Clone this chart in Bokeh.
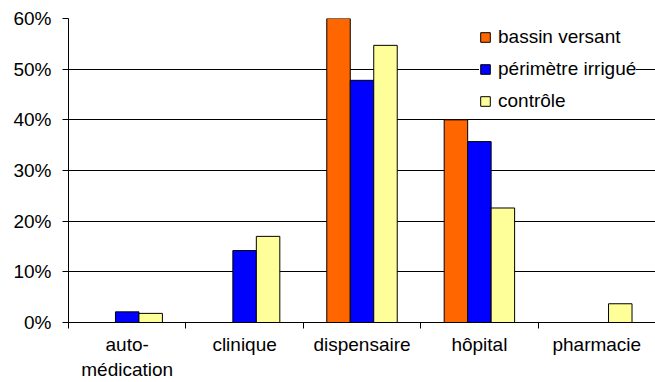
from bokeh.plotting import figure
from bokeh.models import (ColumnDataSource, Range1d, FixedTicker,
                          NumeralTickFormatter, Legend, LegendItem)
from bokeh.transform import dodge
from bokeh.embed import file_html
from bokeh.resources import INLINE

# ---- data ----
categories = ["auto-médication", "clinique", "dispensaire", "hôpital", "pharmacie"]
category_labels = ["auto-\nmédication", "clinique", "dispensaire", "hôpital", "pharmacie"]
series_names = ["bassin versant", "périmètre irrigué", "contrôle"]
bassin_versant = [0.0, 0.0, 0.600, 0.400, 0.0]
perimetre_irrigue = [0.021, 0.142, 0.478, 0.357, 0.0]
controle = [0.018, 0.170, 0.547, 0.226, 0.037]
y_ticks = [0.0, 0.1, 0.2, 0.3, 0.4, 0.5, 0.6]

colors = ["#FF6600", "#0000FF", "#FFFF99"]
FONT = "Liberation Sans"
FS = "19px"

n = len(categories)
slot = [i + 0.5 for i in range(n)]          # centre of each category slot
bounds = [float(i) for i in range(n + 1)]   # boundaries between categories

src = ColumnDataSource(dict(cat=categories, slot=slot,
                            bv=bassin_versant, pi=perimetre_irrigue, ct=controle))

p = figure(x_range=Range1d(0, n), y_range=Range1d(0, 0.6),
           width=655, height=382, output_backend="svg", toolbar_location=None,
           min_border_left=68, min_border_right=0, min_border_top=18, min_border_bottom=59)
p.outline_line_color = None
p.background_fill_color = "white"
p.xgrid.visible = False

renderers = []
for off, col, c in zip([-0.2, 0.0, 0.2], ["bv", "pi", "ct"], colors):
    r = p.vbar(x=dodge("slot", off), top=col, width=0.2, source=src,
               fill_color=c, line_color="black", line_width=1)
    renderers.append(r)

# y axis
p.yaxis.ticker = FixedTicker(ticks=y_ticks)
p.yaxis.formatter = NumeralTickFormatter(format="0%")
p.yaxis.major_tick_out = 6
p.yaxis.major_tick_in = 0
p.yaxis.minor_tick_line_color = None
p.yaxis.axis_line_color = "black"
p.yaxis.major_tick_line_color = "black"
p.yaxis.major_label_text_font = FONT
p.yaxis.major_label_text_font_size = FS
p.yaxis.major_label_text_color = "black"
p.yaxis.major_label_standoff = 11

p.ygrid.grid_line_color = "black"
p.ygrid.grid_line_width = 1

# x axis (category labels centred, ticks at category boundaries)
xaxis = p.xaxis[0]
xaxis.ticker = FixedTicker(ticks=slot, minor_ticks=bounds)
xaxis.major_label_overrides = {c: lab for c, lab in zip(slot, category_labels)}
xaxis.major_tick_line_color = None
xaxis.minor_tick_line_color = "black"
xaxis.minor_tick_out = 6
xaxis.minor_tick_in = 0
xaxis.axis_line_color = "black"
xaxis.major_label_text_font = FONT
xaxis.major_label_text_font_size = FS
xaxis.major_label_text_color = "black"
xaxis.major_label_standoff = 5

legend = Legend(items=[LegendItem(label=s, renderers=[r]) for s, r in zip(series_names, renderers)],
                location=(411, 210))
legend.background_fill_color = "white"
legend.background_fill_alpha = 1
legend.border_line_color = None
legend.glyph_width = 12
legend.glyph_height = 12
legend.label_standoff = 7
legend.padding = 8
legend.spacing = 10
legend.label_height = 20
legend.margin = 0
legend.label_text_font = FONT
legend.label_text_font_size = FS
legend.label_text_color = "black"
p.add_layout(legend)

open("out.html", "w").write(file_html(p, INLINE))
